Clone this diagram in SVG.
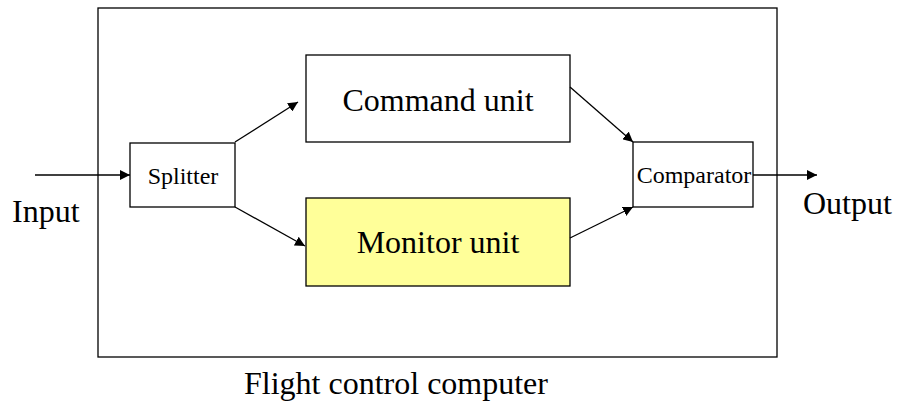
<svg xmlns="http://www.w3.org/2000/svg" width="898" height="406" viewBox="0 0 898 406">
<style>
.box{fill:#fff;stroke:#000;stroke-width:1.3}
.yel{fill:#FFFF99;stroke:#000;stroke-width:1.3}
.t{font-family:"Liberation Serif","Times New Roman",serif;fill:#000}
.c{stroke:#000;stroke-width:1.3;fill:none;marker-end:url(#ah)}
</style>
<defs>
<marker id="ah" viewBox="0 0 10 10" refX="10" refY="5" markerWidth="10" markerHeight="10" markerUnits="userSpaceOnUse" orient="auto">
<path d="M0,0 L10,5 L0,10 z" fill="#000"/>
</marker>
</defs>
<rect fill="#fff" width="898" height="406"/>
<g id="computer">
<rect class="box" x="98" y="8" width="679" height="349"/>
<text class="t" x="396" y="394" font-size="32" text-anchor="middle">Flight control computer</text>
</g>
<g id="splitter">
<rect class="box" x="130" y="143" width="105" height="64"/>
<text class="t" x="183" y="184" font-size="24" text-anchor="middle">Splitter</text>
</g>
<g id="command">
<rect class="box" x="306" y="55" width="264" height="87"/>
<text class="t" x="438" y="111" font-size="32" text-anchor="middle">Command unit</text>
</g>
<g id="monitor">
<rect class="yel" x="306" y="198" width="264" height="88"/>
<text class="t" x="438" y="253" font-size="32" text-anchor="middle">Monitor unit</text>
</g>
<g id="comparator">
<rect class="box" x="633" y="142" width="120" height="65"/>
<text class="t" x="694" y="183" font-size="24" text-anchor="middle">Comparator</text>
</g>
<g id="input">
<text class="t" x="12" y="222" font-size="32">Input</text>
</g>
<g id="output">
<text class="t" x="803" y="214" font-size="32">Output</text>
</g>
<g id="connectors">
<line class="c" x1="35" y1="175" x2="130" y2="175"/>
<line class="c" x1="235" y1="142" x2="298" y2="102"/>
<line class="c" x1="235" y1="207" x2="305" y2="246"/>
<line class="c" x1="570" y1="87" x2="633" y2="142"/>
<line class="c" x1="570" y1="238" x2="633" y2="207"/>
<line class="c" x1="753" y1="175" x2="817" y2="175"/>
</g>
</svg>
